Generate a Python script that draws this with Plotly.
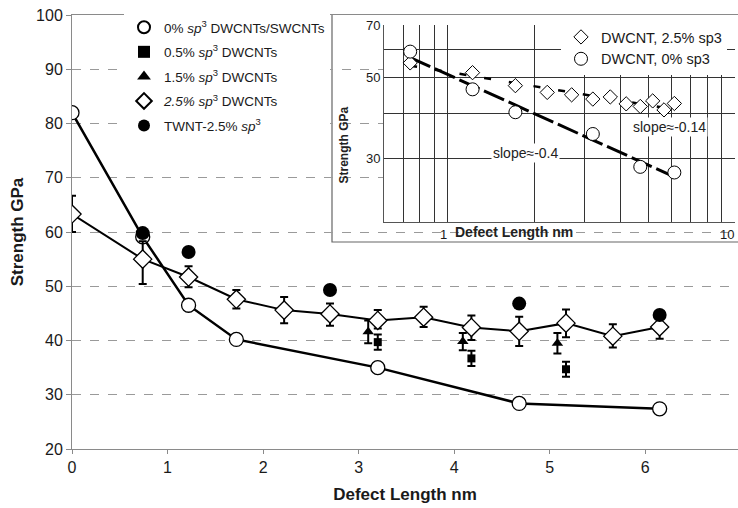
import numpy as np
import plotly.graph_objects as go

# ---------------- data ----------------
x0 = [0.0, 0.74, 1.22, 1.72, 3.2, 4.68, 6.15]
y0 = [82.0, 59.1, 46.5, 40.2, 35.0, 28.4, 27.4]

x25 = [0.0, 0.74, 1.22, 1.72, 2.22, 2.7, 3.2, 3.68, 4.18, 4.68, 5.17, 5.66, 6.15]
y25 = [63.3, 55.0, 51.7, 47.6, 45.6, 44.9, 43.7, 44.3, 42.4, 41.7, 43.2, 40.8, 42.5]
e25_up = [3.4, 3.3, 2.0, 1.7, 2.4, 1.9, 1.9, 1.9, 2.2, 2.7, 2.5, 2.2, 2.3]
e25_dn = [3.3, 4.6, 1.9, 1.7, 2.4, 2.2, 1.5, 1.8, 2.3, 2.7, 2.6, 2.1, 2.2]

x05 = [3.2, 4.18, 5.17]
y05 = [39.7, 36.7, 34.7]
e05 = [1.4, 1.4, 1.4]

x15 = [3.1, 4.09, 5.08]
y15 = [41.6, 39.8, 39.5]
e15 = [2.1, 1.6, 1.9]

xtw = [0.74, 1.22, 2.7, 4.68, 6.15]
ytw = [59.8, 56.3, 49.3, 46.8, 44.7]

ink = "black"
font_family = "Arial, Liberation Sans, sans-serif"

fig = go.Figure()

# lines (no legend)
fig.add_trace(go.Scatter(x=x0, y=y0, mode="lines", line=dict(color=ink, width=2.5),
                         showlegend=False, hoverinfo="skip"))
fig.add_trace(go.Scatter(x=x25, y=y25, mode="lines", line=dict(color=ink, width=2),
                         showlegend=False, hoverinfo="skip"))

# markers
fig.add_trace(go.Scatter(x=x0, y=y0, mode="markers",
                         name="0% <i>sp</i><sup>3</sup> DWCNTs/SWCNTs",
                         marker=dict(symbol="circle", size=14, color="white",
                                     line=dict(color=ink, width=1.3)),
                         legendgroup="a"))
fig.add_trace(go.Scatter(x=x05, y=y05, mode="markers",
                         name="0.5% <i>sp</i><sup>3</sup> DWCNTs",
                         marker=dict(symbol="square", size=8, color=ink),
                         error_y=dict(type="data", array=e05, color=ink, thickness=2, width=4),
                         legendgroup="b"))
fig.add_trace(go.Scatter(x=x15, y=y15, mode="markers",
                         name="1.5% <i>sp</i><sup>3</sup> DWCNTs",
                         marker=dict(symbol="triangle-up", size=10, color=ink),
                         error_y=dict(type="data", array=e15, color=ink, thickness=2, width=4),
                         legendgroup="c"))
fig.add_trace(go.Scatter(x=x25, y=y25, mode="markers",
                         name="<i>2.5% sp</i><sup>3</sup> DWCNTs",
                         marker=dict(symbol="diamond", size=14, color="white",
                                     line=dict(color=ink, width=1.3)),
                         error_y=dict(type="data", symmetric=False, array=e25_up,
                                      arrayminus=e25_dn, color=ink, thickness=2, width=4),
                         legendgroup="d"))
fig.add_trace(go.Scatter(x=xtw, y=ytw, mode="markers",
                         name="TWNT-2.5% <i>sp</i><sup>3</sup>",
                         marker=dict(symbol="circle", size=14, color=ink),
                         legendgroup="e"))

# ---------------- inset (log-log) ----------------
xi25 = [v for v in x25 if v > 0]
yi25 = [y for v, y in zip(x25, y25) if v > 0]
xi0 = [v for v in x0 if v > 0]
yi0 = [y for v, y in zip(x0, y0) if v > 0]

def powerfit(xs, ys):
    b, a = np.polyfit(np.log(xs), np.log(ys), 1)
    xx = np.geomspace(min(xs), max(xs), 30)
    return xx, np.exp(a) * xx ** b

fx0, fy0 = powerfit(xi0, yi0)
fx25, fy25 = powerfit(xi25, yi25)

fig.add_trace(go.Scatter(x=fx25, y=fy25, mode="lines", xaxis="x2", yaxis="y2",
                         line=dict(color=ink, width=2.5, dash="7px,18px"),
                         showlegend=False, hoverinfo="skip"))
fig.add_trace(go.Scatter(x=fx0, y=fy0, mode="lines", xaxis="x2", yaxis="y2",
                         line=dict(color=ink, width=3, dash="22px,5px"),
                         showlegend=False, hoverinfo="skip"))
fig.add_trace(go.Scatter(x=xi25, y=yi25, mode="markers", xaxis="x2", yaxis="y2",
                         name="DWCNT, 2.5% sp3", legend="legend2",
                         marker=dict(symbol="diamond", size=11, color="white",
                                     line=dict(color=ink, width=1))))
fig.add_trace(go.Scatter(x=xi0, y=yi0, mode="markers", xaxis="x2", yaxis="y2",
                         name="DWCNT, 0% sp3", legend="legend2",
                         marker=dict(symbol="circle", size=13, color="white",
                                     line=dict(color=ink, width=1))))

W, H = 738, 508
L, R, T, B = 72, 0, 15, 59
pw, ph = W - L - R, H - T - B
XR = [0, 6.97]
YR = [20, 100]

def px(xp):
    return (xp - L) / pw

def py(yp):
    return (H - B - yp) / ph

def dx(xp):  # pixel -> main x data
    return XR[0] + (xp - L) / pw * (XR[1] - XR[0])

def dy(yp):  # pixel -> main y data
    return YR[0] + (H - B - yp) / ph * (YR[1] - YR[0])

axis_grey = "#8a8a8a"

fig.update_layout(
    width=W, height=H,
    margin=dict(l=L, r=R, t=T, b=B),
    paper_bgcolor="white", plot_bgcolor="white",
    font=dict(family=font_family, color="#1a1a1a"),
    xaxis=dict(range=XR, dtick=1, tick0=0, showgrid=False, zeroline=False,
               showline=True, linecolor=axis_grey, linewidth=1, mirror=True,
               ticks="outside", ticklen=4, tickcolor=axis_grey,
               tickfont=dict(size=16), automargin=False,
               title=dict(text="<b>Defect Length nm</b>", font=dict(size=17), standoff=12)),
    yaxis=dict(range=YR, dtick=10, showgrid=True, gridcolor="#9a9a9a",
               griddash="dash", gridwidth=1, zeroline=False,
               showline=True, linecolor=axis_grey, linewidth=1,
               ticks="outside", ticklen=5, tickcolor=axis_grey,
               tickfont=dict(size=16), automargin=False,
               title=dict(text="<b>Strength GPa</b>", font=dict(size=17), standoff=8)),
    xaxis2=dict(type="log", domain=[px(384), px(735)], anchor="y2",
                range=[np.log10(0.6), 1.0],
                tickmode="array",
                tickvals=[0.6, 0.7, 0.8, 0.9, 1, 2, 3, 4, 5, 6, 7, 8, 9, 10],
                ticktext=["", "", "", "", "1", "", "", "", "", "", "", "", "", "10"],
                ticklabelposition="outside left",
                ticklabeloverflow="allow", automargin=False,
                showgrid=True, gridcolor="#333333", gridwidth=1, zeroline=False,
                showline=True, linecolor="#555555", linewidth=1, ticks="",
                tickfont=dict(size=13)),
    yaxis2=dict(type="log", domain=[py(222), py(25)], anchor="x2",
                range=[np.log10(20), np.log10(70)],
                tickmode="array", tickvals=[30, 40, 50, 60, 70],
                ticktext=["30", "", "50", "", "70"], automargin=False,
                showgrid=True, gridcolor="#333333", gridwidth=1, zeroline=False,
                showline=True, linecolor="#555555", linewidth=1, ticks="",
                tickfont=dict(size=13)),
    legend=dict(x=px(124), y=py(12), xanchor="left", yanchor="top",
                bgcolor="white", borderwidth=0, font=dict(size=13.5),
                itemsizing="constant", traceorder="grouped", tracegroupgap=4),
    legend2=dict(x=px(561), y=py(21), xanchor="left", yanchor="top",
                 bgcolor="white", borderwidth=0, font=dict(size=14.5),
                 itemsizing="trace", tracegroupgap=0),
    showlegend=True,
)

# inset box (white panel hiding the main grid), in main-axis space so it sits above the grid
fig.add_shape(type="rect", xref="x", yref="y",
              x0=dx(332), x1=dx(745), y0=dy(242), y1=dy(13),
              fillcolor="white", line=dict(color="#666666", width=1.2), layer="below")

# inset annotations
fig.add_annotation(x=np.log10(1.86), y=np.log10(31.0), xref="x2", yref="y2",
                   text="slope≈-0.4", showarrow=False, bgcolor="white",
                   font=dict(size=14, color="#222"))
fig.add_annotation(x=np.log10(5.93), y=np.log10(36.6), xref="x2", yref="y2",
                   text="slope≈-0.14", showarrow=False, bgcolor="white",
                   font=dict(size=14, color="#222"))
fig.add_annotation(x=px(575), y=py(232), xref="paper", yref="paper",
                   text="<b>Defect Length nm</b>", showarrow=False,
                   font=dict(size=14, color="#222"))
fig.add_annotation(x=px(343), y=py(105), xref="paper", yref="paper",
                   text="<b>Strength GPa</b>", showarrow=False, textangle=-90,
                   font=dict(size=12, color="#222"))

fig.write_html("out.html")
